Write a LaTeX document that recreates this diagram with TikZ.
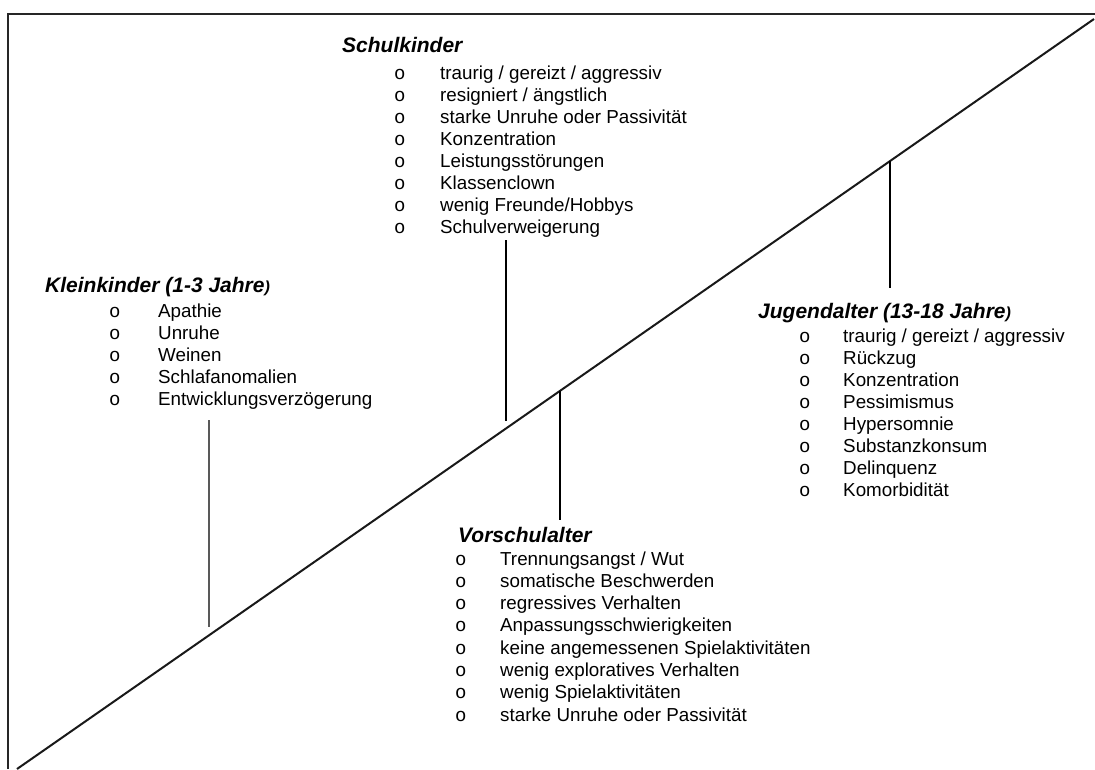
\documentclass[tikz,border=0pt]{standalone}
\usepackage{fontspec}
\setmainfont{Liberation Sans}
\newfontfamily\bulfont{Liberation Mono}
\begin{document}
\begin{tikzpicture}[x=1pt,y=-1pt,
  frame/.style={line width=2pt,draw=black!85},
  axisline/.style={line width=2pt,draw=black!90},
  tick/.style={line width=2pt,draw=black},
  thintick/.style={line width=1.4pt,draw=black!65},
  heading/.style={anchor=base west,inner sep=0pt,font=\fontsize{21}{25}\selectfont\bfseries\itshape},
  item/.style={anchor=base west,inner sep=0pt,font=\fontsize{18.8}{22}\selectfont},
  bul/.style={anchor=base west,inner sep=0pt,font=\fontsize{19}{22}\bulfont}]
\useasboundingbox (0,0) rectangle (1095,769);
% frame
\coordinate (fbl) at (8,769);
\coordinate (ftl) at (8,14);
\coordinate (ftr) at (1095,14);
\draw[frame] (fbl) -- (ftl) -- (ftr);
% diagonal
\coordinate (dl) at (17,769);
\coordinate (dr) at (1094,19);
\draw[axisline] (dl) -- (dr);

% Kleinkinder
\node[heading] (kl) at (45,292) {Kleinkinder (1-3 Jahre{\fontsize{16}{20}\selectfont )}};
\foreach \t [count=\i] in {Apathie,Unruhe,Weinen,Schlafanomalien,Entwicklungsverzögerung}{
  \node[bul] (klb\i) at (109,{317+22*(\i-1)}) {o};
  \node[item] (kli\i) at (158,{317+22*(\i-1)}) {\t};
}
% Schulkinder
\node[heading] (sk) at (342,52) {Schulkinder};
\foreach \t [count=\i] in {traurig / gereizt / aggressiv,resigniert / ängstlich,starke Unruhe oder Passivität,Konzentration,Leistungsstörungen,Klassenclown,wenig Freunde/Hobbys,Schulverweigerung}{
  \node[bul] (skb\i) at (394,{79+22*(\i-1)}) {o};
  \node[item] (ski\i) at (440,{79+22*(\i-1)}) {\t};
}
% Jugendalter
\node[heading] (ju) at (758,318) {Jugendalter (13-18 Jahre{\fontsize{16}{20}\selectfont )}};
\foreach \t [count=\i] in {traurig / gereizt / aggressiv,Rückzug,Konzentration,Pessimismus,Hypersomnie,Substanzkonsum,Delinquenz,Komorbidität}{
  \node[bul] (jub\i) at (799,{342+22.1*(\i-1)}) {o};
  \node[item] (jui\i) at (843,{342+22.1*(\i-1)}) {\t};
}
% Vorschulalter
\node[heading] (vs) at (458,542) {Vorschulalter};
\foreach \t [count=\i] in {Trennungsangst / Wut,somatische Beschwerden,regressives Verhalten,Anpassungsschwierigkeiten,keine angemessenen Spielaktivitäten,wenig exploratives Verhalten,wenig Spielaktivitäten,starke Unruhe oder Passivität}{
  \node[bul] (vsb\i) at (455,{565+22.3*(\i-1)}) {o};
  \node[item] (vsi\i) at (500,{565+22.3*(\i-1)}) {\t};
}

% connectors
\coordinate (klt) at (209,420);
\coordinate (klx) at (209,627);
\draw[thintick] (klt) -- (klx);
\coordinate (skt) at (506,240);
\coordinate (skx) at (506,421);
\draw[tick] (skt) -- (skx);
\coordinate (vsx) at (560,391);
\coordinate (vst) at (560,520);
\draw[tick] (vsx) -- (vst);
\coordinate (jux) at (890,161);
\coordinate (jut) at (890,288);
\draw[tick] (jux) -- (jut);
\end{tikzpicture}
\end{document}
